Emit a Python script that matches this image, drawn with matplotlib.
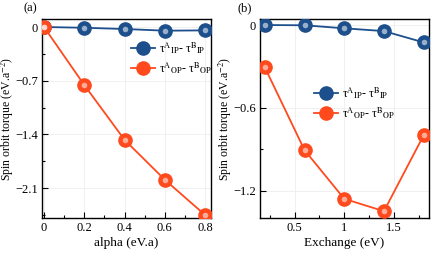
import numpy as np
import matplotlib
matplotlib.use('Agg')
import matplotlib.pyplot as plt
from matplotlib.ticker import MultipleLocator, FuncFormatter

plt.rcParams['font.family'] = 'Liberation Serif'
plt.rcParams['mathtext.fontset'] = 'stix'
plt.rcParams['axes.unicode_minus'] = True

# panel (a): torque vs alpha
alpha = [0.0, 0.2, 0.4, 0.6, 0.8]
ip_a = [0.0, -0.01, -0.026, -0.048, -0.044]
op_a = [0.0, -0.756, -1.47, -1.99, -2.45]

# panel (b): torque vs exchange
exch = [0.2, 0.6, 1.0, 1.4, 1.8]
ip_b = [0.0, -0.002, -0.024, -0.044, -0.126]
op_b = [-0.307, -0.907, -1.26, -1.35, -0.80]

blue = '#1d4f8c'
red = '#ff4a1e'
lab_ip = r'τ$^{\mathrm{A}}$$_{\mathrm{IP}}$- τ$^{\mathrm{B}}$$_{\mathrm{IP}}$'
lab_op = r'τ$^{\mathrm{A}}$$_{\mathrm{OP}}$- τ$^{\mathrm{B}}$$_{\mathrm{OP}}$'


def fmt(v, pos):
    s = ('%.2f' % v).rstrip('0').rstrip('.')
    if s in ('-0', '0'):
        return '0'
    return s.replace('-', '\u2212')


def series(ax, x, y, color, label):
    ax.plot(x, y, '-', color=color, lw=1.3, marker='o', ms=9.5,
            mfc=color, mec=color, label=label, zorder=3)
    # little highlight to fake the shaded spheres
    ax.plot(x, y, 'o', ms=4, color='white', alpha=0.55, mec='none', zorder=4)


fig = plt.figure(figsize=(4.36, 2.56), dpi=100)
ax1 = fig.add_axes([0.0963, 0.148, 0.388, 0.778])
ax2 = fig.add_axes([0.596, 0.148, 0.387, 0.778])

series(ax1, alpha, ip_a, blue, lab_ip)
series(ax1, alpha, op_a, red, lab_op)
ax1.set_xlim(-0.01, 0.83)
ax1.set_ylim(-2.49, 0.105)
ax1.xaxis.set_major_locator(MultipleLocator(0.2))
ax1.xaxis.set_minor_locator(MultipleLocator(0.1))
ax1.yaxis.set_major_locator(MultipleLocator(0.7))
ax1.yaxis.set_minor_locator(MultipleLocator(0.35))
ax1.set_xlabel('alpha (eV.a)', fontsize=9.5, labelpad=2)
ax1.legend(loc='center', bbox_to_anchor=(0.766, 0.804), frameon=False,
           fontsize=8.5, handlelength=2.0, handletextpad=0.4, labelspacing=0.35)

series(ax2, exch, ip_b, blue, lab_ip)
series(ax2, exch, op_b, red, lab_op)
ax2.set_xlim(0.15, 1.85)
ax2.set_ylim(-1.40, 0.044)
ax2.xaxis.set_major_locator(MultipleLocator(0.5))
ax2.xaxis.set_minor_locator(MultipleLocator(0.25))
ax2.yaxis.set_major_locator(MultipleLocator(0.6))
ax2.yaxis.set_minor_locator(MultipleLocator(0.3))
ax2.set_xlabel('Exchange (eV)', fontsize=9.5, labelpad=2)
ax2.legend(loc='center', bbox_to_anchor=(0.562, 0.578), frameon=False,
           fontsize=8.5, handlelength=2.0, handletextpad=0.4, labelspacing=0.35)

for ax in (ax1, ax2):
    ax.set_ylabel('Spin orbit torque (eV.a$^{-2}$)', fontsize=8.5)
    ax.yaxis.set_label_coords(-0.155, 0.5)
    ax.xaxis.set_major_formatter(FuncFormatter(fmt))
    ax.yaxis.set_major_formatter(FuncFormatter(fmt))
    ax.tick_params(which='both', direction='in', labelsize=9, width=0.8)
    ax.tick_params(which='major', length=4, pad=3)
    ax.tick_params(which='minor', length=2)
    ax.grid(True, color='#eeeeee', lw=0.6, zorder=0)
    for sp in ax.spines.values():
        sp.set_linewidth(1.0)

fig.text(30 / 436, 1 - 8 / 256, '(a)', fontsize=9, ha='center', va='center')
fig.text(245 / 436, 1 - 8 / 256, '(b)', fontsize=9, ha='center', va='center')

fig.savefig('out.png', dpi=100)
